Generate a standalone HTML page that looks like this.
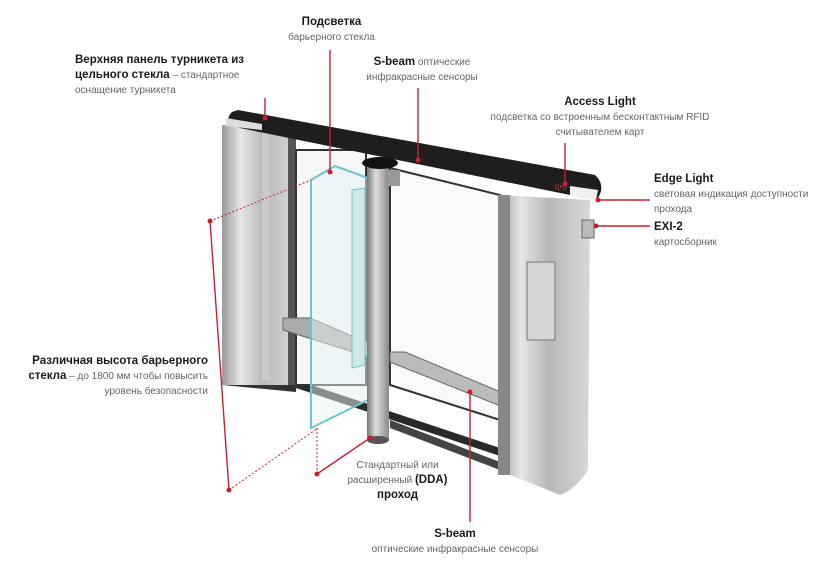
<!DOCTYPE html>
<html><head><meta charset="utf-8"><style>
body{margin:0;width:840px;height:567px;background:#fff;overflow:hidden;position:relative;font-family:"Liberation Sans","Noto Sans CJK SC",sans-serif;}
.t{position:absolute;font-size:10px;color:#666;line-height:15px;white-space:nowrap}
.t b{color:#1a1a1a;font-size:11.5px}
svg{position:absolute;left:0;top:0}
</style></head><body>
<svg width="840" height="567" viewBox="0 0 840 567">
<defs>
<linearGradient id="sil" x1="0" x2="1" y1="0" y2="0"><stop offset="0" stop-color="#9a9a9a"/><stop offset=".25" stop-color="#e6e6e6"/><stop offset=".55" stop-color="#b8b8b8"/><stop offset="1" stop-color="#d8d8d8"/></linearGradient>
<linearGradient id="pole" x1="0" x2="1"><stop offset="0" stop-color="#777"/><stop offset=".4" stop-color="#ddd"/><stop offset="1" stop-color="#888"/></linearGradient>
</defs>
<!-- floor base lines -->
<polygon points="290,378 500,448 500,456 290,386" fill="#2a2a2a"/>
<polygon points="390,420 500,462 500,470 390,428" fill="#444"/>
<polygon points="222,372 296,380 296,392 222,385" fill="#333"/>
<!-- left cabinet -->
<rect x="222" y="125" width="74" height="260" fill="url(#sil)"/>
<rect x="262" y="130" width="8" height="250" fill="#c9c9c9"/>
<rect x="288" y="130" width="8" height="255" fill="#555"/>
<!-- back glass frames -->
<rect x="296" y="150" width="70" height="235" fill="#f5f7f8" stroke="#333" stroke-width="2"/>
<polygon points="390,168 500,195 500,420 390,385" fill="#f8f9fa" stroke="#333" stroke-width="2"/>
<!-- bars -->
<polygon points="283,318 310,318 385,350 385,362 283,330" fill="#aaa" stroke="#666"/>
<polygon points="390,352 405,352 503,393 503,407 390,362" fill="#bbb" stroke="#666"/>
<!-- right cabinet -->
<path d="M498,195 L590,200 L588,470 Q575,490 560,495 L498,470 Z" fill="url(#sil)"/>
<rect x="498" y="195" width="12" height="280" fill="#888"/>
<rect x="527" y="262" width="28" height="78" fill="#d5d5d5" stroke="#777"/>
<rect x="582" y="220" width="12" height="18" fill="#bbb" stroke="#666"/>
<!-- left glass -->
<polygon points="311,180 335,166 368,178 368,400 311,428" fill="#e8f4f4" fill-opacity=".5" stroke="#6cc6cc" stroke-width="2"/>
<polygon points="352,190 365,188 365,365 352,368" fill="#cfe6e6" stroke="#6cc6cc"/>
<!-- pole -->
<rect x="367" y="168" width="22" height="272" fill="url(#pole)"/>
<ellipse cx="378" cy="440" rx="11" ry="4" fill="#555"/>
<rect x="388" y="170" width="12" height="16" fill="#999"/>
<!-- top bar -->
<path d="M238,110 L595,175 Q606,185 598,198 L575,196 L240,128 Q222,122 232,112 Z" fill="#1e1e1e"/>
<path d="M226,126 L262,130 L262,124 L226,118 Z" fill="#ddd"/>
<path d="M570,186 L598,190 L596,200 L570,196 Z" fill="#f0f0f0"/>
<ellipse cx="380" cy="163" rx="18" ry="6" fill="#111"/>
<text x="555" y="189" font-size="7" fill="#c44" font-family="Liberation Sans">((•))</text>
<!-- red connectors -->
<g stroke="#c8202e" stroke-width="1.4" fill="none">
<line x1="265" y1="98" x2="265" y2="118"/>
<line x1="330" y1="50" x2="330" y2="172"/>
<line x1="418" y1="88" x2="418" y2="160"/>
<line x1="565" y1="143" x2="565" y2="184"/>
<line x1="598" y1="200" x2="650" y2="200"/>
<line x1="596" y1="226" x2="650" y2="226"/>
<line x1="210" y1="221" x2="229" y2="490"/>
<line x1="317" y1="474" x2="370" y2="438"/>
<line x1="470" y1="392" x2="470" y2="522"/>
</g>
<g stroke="#c8202e" stroke-width="1" stroke-dasharray="2,2" fill="none">
<line x1="210" y1="221" x2="311" y2="180"/>
<line x1="229" y1="490" x2="318" y2="428"/>
<line x1="317" y1="428" x2="317" y2="474"/>
</g>
<g fill="#c8202e">
<circle cx="265" cy="118" r="2.5"/><circle cx="330" cy="172" r="2.5"/><circle cx="418" cy="160" r="2.5"/>
<circle cx="565" cy="184" r="2.5"/><circle cx="598" cy="200" r="2.5"/><circle cx="596" cy="226" r="2.5"/>
<circle cx="210" cy="221" r="2.5"/><circle cx="229" cy="490" r="2.5"/><circle cx="317" cy="474" r="2.5"/>
<circle cx="370" cy="438" r="2.5"/><circle cx="470" cy="392" r="2.5"/>
</g>
</svg>
<div class="t" style="left:284px;top:15px;text-align:center;width:95px"><b>Подсветка</b><br>барьерного стекла</div>
<div class="t" style="left:75px;top:53px"><b>Верхняя панель турникета из</b><br><b>цельного стекла</b> – стандартное<br>оснащение турникета</div>
<div class="t" style="left:357px;top:55px;text-align:center;width:130px"><b>S-beam</b> оптические<br>инфракрасные сенсоры</div>
<div class="t" style="left:480px;top:95px;text-align:center;width:240px"><b>Access Light</b><br>подсветка со встроенным бесконтактным RFID<br>считывателем карт</div>
<div class="t" style="left:654px;top:172px"><b>Edge Light</b><br>световая индикация доступности<br>прохода</div>
<div class="t" style="left:654px;top:220px"><b>EXI-2</b><br>картосборник</div>
<div class="t" style="left:18px;top:354px;text-align:right;width:190px"><b>Различная высота барьерного</b><br><b>стекла</b> – до 1800 мм чтобы повысить<br>уровень безопасности</div>
<div class="t" style="left:345px;top:458px;text-align:center;width:105px">Стандартный или<br>расширенный <b>(DDA)</b><br><b>проход</b></div>
<div class="t" style="left:360px;top:527px;text-align:center;width:190px"><b>S-beam</b><br>оптические инфракрасные сенсоры</div>
</body></html>
